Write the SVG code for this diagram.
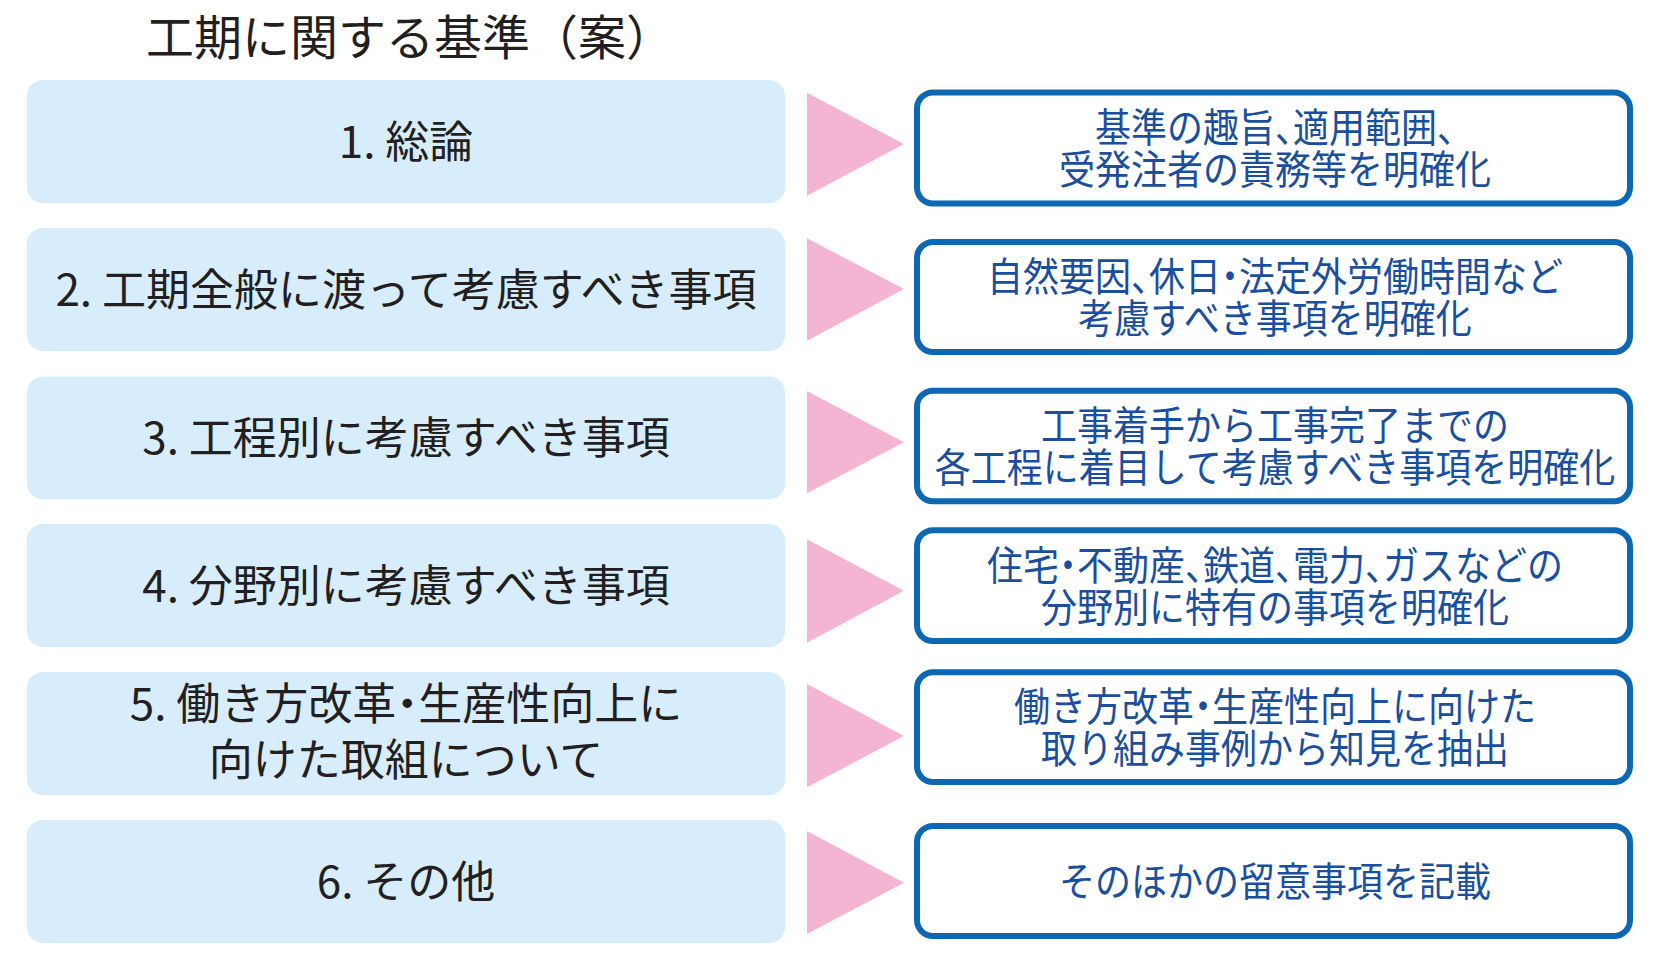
<svg xmlns="http://www.w3.org/2000/svg" width="1671" height="964" viewBox="0 0 1671 964">
<style>
.lbox{fill:#d7edfb;}
.rbox{fill:#ffffff;stroke:#0d68b3;stroke-width:6;}
.tri{fill:#f4b5d3;}
text{font-family:"Noto Sans CJK JP","Noto Sans",sans-serif;text-anchor:middle;}
.title{font-size:48px;fill:#231f20;}
.l{font-size:44px;fill:#231f20;font-feature-settings:"halt";}
.r{font-size:40px;fill:#1a4f9e;font-feature-settings:"halt";}
</style>
<rect width="1671" height="964" fill="#ffffff"/>
<text class="title" x="410" y="55">工期に関する基準（案）</text>

<g id="connectors">
<polygon class="tri" points="807,92.7 807,195.7 904,144"/>
<polygon class="tri" points="807,238.3 807,340.7 904,289"/>
<polygon class="tri" points="807,391 807,493.3 904,442.3"/>
<polygon class="tri" points="807,539.3 807,642.7 904,590.7"/>
<polygon class="tri" points="807,684 807,787.3 904,736"/>
<polygon class="tri" points="807,831 807,934 904,882.7"/>
</g>

<g id="s1">
<rect class="lbox" x="27" y="80" width="758" height="123" rx="16"/>
<text class="l" x="406" y="157.5">1. 総論</text>
</g>
<g id="s2">
<rect class="lbox" x="27" y="228" width="758" height="123" rx="16"/>
<text class="l" x="406" y="305.5">2. 工期全般に渡って考慮すべき事項</text>
</g>
<g id="s3">
<rect class="lbox" x="27" y="376.5" width="758" height="123" rx="16"/>
<text class="l" x="406" y="454">3. 工程別に考慮すべき事項</text>
</g>
<g id="s4">
<rect class="lbox" x="27" y="524" width="758" height="123" rx="16"/>
<text class="l" x="406" y="601.5">4. 分野別に考慮すべき事項</text>
</g>
<g id="s5">
<rect class="lbox" x="27" y="672" width="758" height="123" rx="16"/>
<text class="l" x="406" y="720">5. 働き方改革・生産性向上に<tspan x="406" dy="56">向けた取組について</tspan></text>
</g>
<g id="s6">
<rect class="lbox" x="27" y="820" width="758" height="123" rx="16"/>
<text class="l" x="406" y="897.5">6. その他</text>
</g>

<g id="d1">
<rect class="rbox" x="917" y="92.5" width="713" height="111" rx="16"/>
<text class="r" transform="translate(1275,142) scale(0.9,1)">基準の趣旨、適用範囲、<tspan x="0" dy="42">受発注者の責務等を明確化</tspan></text>
</g>
<g id="d2">
<rect class="rbox" x="917" y="242" width="713" height="110" rx="16"/>
<text class="r" transform="translate(1275,291) scale(0.9,1)">自然要因、休日・法定外労働時間など<tspan x="0" dy="42">考慮すべき事項を明確化</tspan></text>
</g>
<g id="d3">
<rect class="rbox" x="917" y="390.7" width="713" height="110.6" rx="16"/>
<text class="r" transform="translate(1275,440) scale(0.9,1)">工事着手から工事完了までの<tspan x="0" dy="42">各工程に着目して考慮すべき事項を明確化</tspan></text>
</g>
<g id="d4">
<rect class="rbox" x="917" y="530.3" width="713" height="110.7" rx="16"/>
<text class="r" transform="translate(1275,579.7) scale(0.9,1)">住宅・不動産、鉄道、電力、ガスなどの<tspan x="0" dy="42">分野別に特有の事項を明確化</tspan></text>
</g>
<g id="d5">
<rect class="rbox" x="917" y="672.3" width="713" height="109.7" rx="16"/>
<text class="r" transform="translate(1275,721) scale(0.9,1)">働き方改革・生産性向上に向けた<tspan x="0" dy="42">取り組み事例から知見を抽出</tspan></text>
</g>
<g id="d6">
<rect class="rbox" x="917" y="826" width="713" height="110" rx="16"/>
<text class="r" transform="translate(1275,896) scale(0.9,1)">そのほかの留意事項を記載</text>
</g>
</svg>
